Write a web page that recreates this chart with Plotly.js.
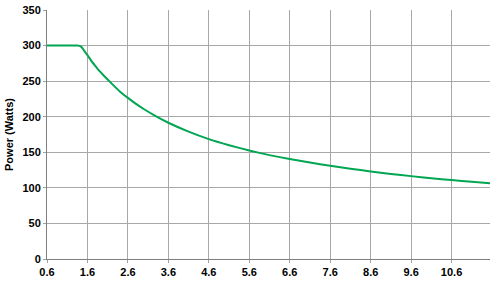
<!DOCTYPE html>
<html><head><meta charset="utf-8">
<script src="https://cdn.plot.ly/plotly-3.0.1.min.js"></script>
<style>html,body{margin:0;padding:0;background:#fff;}#c{width:494px;height:288px;}</style>
</head><body><div id="c"></div>
<script>
const xVals = [0.6, 1.0, 1.35, 1.40, 1.44, 1.48, 1.52, 1.56, 1.6, 1.7, 1.8, 1.9, 2.0, 2.2, 2.4, 2.6, 2.8, 3.0, 3.3, 3.6, 4.1, 4.6, 5.1, 5.6, 6.1, 6.6, 7.1, 7.6, 8.1, 8.6, 9.1, 9.6, 10.1, 10.6, 11.1, 11.55];
const powerVals = [300, 300, 300, 299.6, 298.5, 296, 292.5, 289.5, 286.5, 278, 271, 264, 258, 246.5, 235.5, 226.5, 218, 210.5, 200.5, 191.5, 179, 168.5, 160, 152.5, 146, 140.5, 135.5, 131, 127, 123, 119.5, 116.5, 113.5, 111, 108.5, 106.5];
const xTicks = [0.6, 1.6, 2.6, 3.6, 4.6, 5.6, 6.6, 7.6, 8.6, 9.6, 10.6];
const yTicks = [0, 50, 100, 150, 200, 250, 300, 350];

Plotly.newPlot('c', [{
  x: xVals, y: powerVals, type: 'scatter', mode: 'lines',
  line: {color: '#00a651', width: 2, shape: 'spline', smoothing: 0.4},
  hoverinfo: 'skip'
}], {
  width: 494, height: 288,
  margin: {l: 47, r: 4, t: 10, b: 29},
  paper_bgcolor: '#fff', plot_bgcolor: '#fff',
  showlegend: false,
  font: {family: 'Liberation Sans, Arial, sans-serif', size: 11, color: '#000'},
  xaxis: {
    range: [0.6, 11.55], tickvals: xTicks, ticktext: xTicks.map(v => '<b>' + v.toFixed(1) + '</b>'),
    showgrid: true, gridcolor: '#a8a8a8', gridwidth: 1,
    showline: true, linecolor: '#808080', linewidth: 1, mirror: false,
    ticks: 'outside', ticklen: 3, tickcolor: '#a0a0a0', zeroline: false,
    tickfont: {size: 11, family: 'Liberation Sans, Arial, sans-serif'}
  },
  yaxis: {
    range: [0, 350], tickvals: yTicks, ticktext: yTicks.map(v => '<b>' + v + '</b>'),
    showgrid: true, gridcolor: '#a8a8a8', gridwidth: 1,
    showline: true, linecolor: '#808080', linewidth: 1,
    ticks: 'outside', ticklen: 3, tickcolor: '#a0a0a0', zeroline: false,
    tickfont: {size: 11, family: 'Liberation Sans, Arial, sans-serif'},
    title: {text: '<b>Power (Watts)</b>', standoff: 6, font: {size: 11, family: 'Liberation Sans, Arial, sans-serif'}}
  }
}, {staticPlot: true, displayModeBar: false});
</script></body></html>
